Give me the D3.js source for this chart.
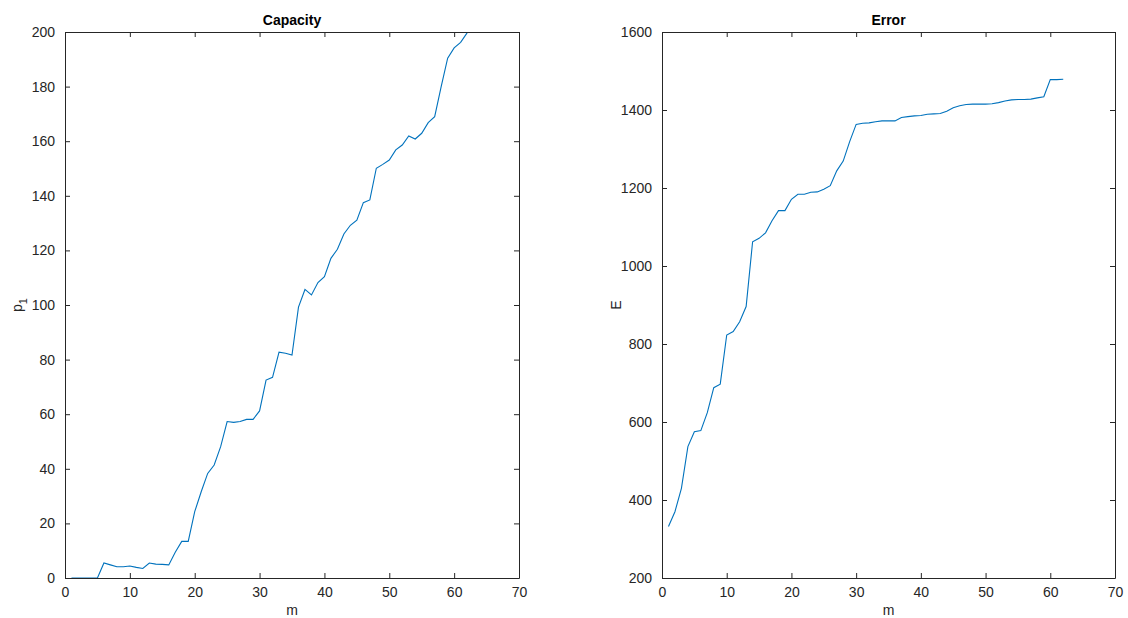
<!DOCTYPE html>
<html>
<head>
<meta charset="utf-8">
<script src="https://cdn.jsdelivr.net/npm/d3@7"></script>
<style>
  body { margin: 0; background: #fff; }
  svg text { font-family: "Liberation Sans", Arial, Helvetica, sans-serif; fill: #262626; }
</style>
</head>
<body>
<svg id="chart" width="1128" height="618"></svg>
<script>
'use strict';

// m = 1..62 for both panels
var mValues = d3.range(1, 63);

var capacity = [
  0, 0, 0, 0, 0, 5.5, 4.8, 4.1, 4.1, 4.4,
  3.9, 3.5, 5.5, 5.1, 5.0, 4.8, 9.4, 13.4, 13.4, 24.3,
  31.6, 38.3, 41.4, 48.1, 57.3, 57.0, 57.3, 58.1, 58.1, 61.2,
  72.5, 73.5, 82.7, 82.3, 81.7, 99.2, 105.7, 103.7, 108.2, 110.4,
  117.1, 120.4, 126, 129.2, 131.1, 137.5, 138.5, 150.1, 151.5, 153.1,
  156.8, 158.6, 161.9, 160.8, 162.9, 166.8, 169.0, 180, 190.4, 194.2,
  196.2, 199.7
];

var error = [
  332, 370, 430, 537, 575, 578, 624, 688, 697, 823,
  832, 857, 896, 1062, 1071, 1085, 1116, 1142, 1142, 1171,
  1184, 1184, 1189, 1190, 1197, 1206, 1244, 1269, 1319, 1363,
  1366, 1367, 1370, 1372, 1372, 1372, 1381, 1383, 1385, 1386,
  1389, 1390, 1391, 1397, 1406, 1411, 1414, 1415, 1415, 1415,
  1416, 1419, 1423, 1426, 1427, 1427, 1428, 1431, 1434, 1478,
  1478, 1479
];

var xTicks = [0, 10, 20, 30, 40, 50, 60, 70];
var capTicks = [0, 20, 40, 60, 80, 100, 120, 140, 160, 180, 200];
var errTicks = [200, 400, 600, 800, 1000, 1200, 1400, 1600];

var svg = d3.select('#chart');
var lineColor = '#0072bd';
var axisColor = '#262626';
var fontSize = 14;

function drawPanel(opts) {
  var x = d3.scaleLinear().domain([0, 70]).range([opts.left, opts.right]);
  var y = d3.scaleLinear().domain(opts.yDomain).range([578, 32]);
  var g = svg.append('g');
  var tickLen = 5;
  var fmt = d3.format('d');

  g.append('clipPath').attr('id', opts.id + '-clip')
    .append('rect')
    .attr('x', opts.left).attr('y', 32)
    .attr('width', opts.right - opts.left).attr('height', 578 - 32);

  // data line
  var line = d3.line()
    .x(function (d, i) { return x(mValues[i]); })
    .y(function (d) { return y(d); });

  g.append('path')
    .datum(opts.values)
    .attr('clip-path', 'url(#' + opts.id + '-clip)')
    .attr('d', line)
    .attr('fill', 'none')
    .attr('stroke', lineColor)
    .attr('stroke-width', 1.1);

  // bottom axis (ticks inside), top mirror
  var xAxis = d3.axisBottom(x).tickValues(xTicks).tickFormat(fmt).tickSizeInner(-tickLen).tickSizeOuter(0).tickPadding(9);
  var xa = g.append('g').attr('transform', 'translate(0,578)').call(xAxis);
  var xTop = d3.axisTop(x).tickValues(xTicks).tickSizeInner(-tickLen).tickSizeOuter(0).tickFormat('');
  var xt = g.append('g').attr('transform', 'translate(0,32)').call(xTop);

  var yAxis = d3.axisLeft(y).tickValues(opts.yTicks).tickFormat(fmt).tickSizeInner(-tickLen).tickSizeOuter(0).tickPadding(10);
  var ya = g.append('g').attr('transform', 'translate(' + opts.left + ',0)').call(yAxis);
  var yRight = d3.axisRight(y).tickValues(opts.yTicks).tickSizeInner(-tickLen).tickSizeOuter(0).tickFormat('');
  var yr = g.append('g').attr('transform', 'translate(' + opts.right + ',0)').call(yRight);

  [xa, xt, ya, yr].forEach(function (a) {
    a.attr('font-size', fontSize).attr('font-family', null);
    a.select('.domain').attr('stroke', axisColor).attr('stroke-width', 1);
    a.selectAll('.tick line').attr('stroke', axisColor).attr('stroke-width', 1);
    a.selectAll('.tick text').attr('fill', axisColor);
  });

  // title
  g.append('text')
    .attr('x', (opts.left + opts.right) / 2)
    .attr('y', 25)
    .attr('text-anchor', 'middle')
    .attr('font-size', fontSize)
    .attr('font-weight', 'bold')
    .style('fill', '#000')
    .text(opts.title);

  // x label
  g.append('text')
    .attr('x', (opts.left + opts.right) / 2)
    .attr('y', 615)
    .attr('text-anchor', 'middle')
    .attr('font-size', fontSize)
    .text('m');

  // y label
  var yl = g.append('text')
    .attr('transform', 'translate(' + opts.yLabelX + ',305) rotate(-90)')
    .attr('text-anchor', 'middle')
    .attr('font-size', fontSize);
  if (opts.yLabelSub) {
    yl.append('tspan').text(opts.yLabel);
    yl.append('tspan').attr('dy', 5).attr('font-size', 11).text(opts.yLabelSub);
  } else {
    yl.text(opts.yLabel);
  }
}

drawPanel({
  id: 'cap', left: 65, right: 519, yDomain: [0, 200], yTicks: capTicks,
  values: capacity, title: 'Capacity', yLabel: 'p', yLabelSub: '1', yLabelX: 22
});

drawPanel({
  id: 'err', left: 662, right: 1115, yDomain: [200, 1600], yTicks: errTicks,
  values: error, title: 'Error', yLabel: 'E', yLabelX: 621
});
</script>
</body>
</html>
